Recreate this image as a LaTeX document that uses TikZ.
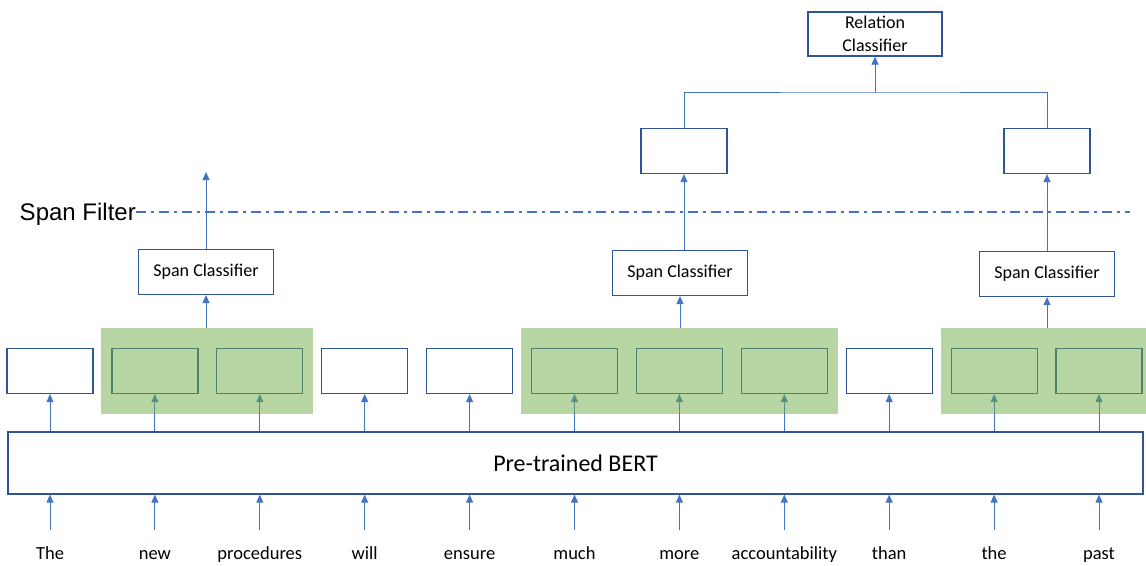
\documentclass[tikz,border=0pt]{standalone}
\usepackage{fontspec}
\setmainfont{Carlito}
\newfontfamily\filterfont{Liberation Sans}
\usetikzlibrary{arrows.meta,fit}
\definecolor{boxblue}{HTML}{2F5597}
\definecolor{lineblue}{HTML}{4472C4}
\definecolor{spangreen}{HTML}{70AD47}
\begin{document}
\begin{tikzpicture}[x=1pt,y=-1pt,
  box/.style={draw=boxblue,line width=1.2pt,fill=white,minimum width=86pt,minimum height=45pt,inner sep=0pt},
  clf/.style={box,minimum width=135pt,font=\fontsize{18}{21}\selectfont},
  word/.style={anchor=base,font=\fontsize{18.5}{22}\selectfont},
  arr/.style={draw=lineblue,line width=1pt,-{Triangle[length=8pt,width=7pt]}},
  link/.style={draw=lineblue,line width=1pt},
  span/.style={fill=spangreen,fill opacity=.5,inner xsep=10pt,inner ysep=20pt}]
\clip (0,0) rectangle (1146,565);
\node[box,minimum width=1135pt,minimum height=62pt,font=\fontsize{24}{28}\selectfont] (bert) at (575.5,463) {Pre-trained BERT};
\foreach \w [count=\i] in {The,new,procedures,will,ensure,much,more,accountability,than,the,past}{
  \node[word] (w\i) at ({50+(\i-1)*104.9},559) {\w};
  \coordinate (a\i) at ({50+(\i-1)*104.9},530);
  \node[box] (t\i) at ({50+(\i-1)*104.9},371) {};
  \draw[arr] (a\i) -- (a\i |- bert.south);
  \draw[arr] (t\i |- bert.north) -- (t\i.south);
}
\node[span,fit=(t2)(t3)] (g1) {};
\node[span,fit=(t6)(t7)(t8)] (g2) {};
\node[span,fit=(t10)(t11)] (g3) {};

\node[clf] (sc1) at (206,272) {Span Classifier};
\node[clf] (sc2) at (680,273) {Span Classifier};
\node[clf] (sc3) at (1047,274) {Span Classifier};
\draw[arr] (sc1 |- g1.north) -- (sc1.south);
\draw[arr] (sc2 |- g2.north) -- (sc2.south);
\draw[arr] (sc3 |- g3.north) -- (sc3.south);

\coordinate (f1) at (206,172);
\draw[arr] (sc1.north) -- (f1);
\node[box] (e1) at (684,151) {};
\node[box] (e2) at (1047,151) {};
\draw[arr] (e1 |- sc2.north) -- (e1.south);
\draw[arr] (sc3.north) -- (e2.south);

\node[clf,minimum width=134pt,minimum height=44pt,align=center,font=\fontsize{18}{23}\selectfont] (rc) at (875,34) {Relation\\Classifier};
\coordinate (jn) at (875,92);
\draw[link] (e1.north) |- (jn) -| (e2.north);
\draw[arr] (jn) -- (rc.south);

\node[font=\filterfont\fontsize{24}{28}\selectfont,inner sep=0pt,anchor=east] (sf) at (136,214) {Span Filter};
\coordinate (sfe) at (1130,212);
\draw[lineblue,line width=1.5pt,dash pattern=on 10pt off 5pt on 3pt off 5pt] (sf.east |- sfe) -- (sfe);
\end{tikzpicture}
\end{document}
